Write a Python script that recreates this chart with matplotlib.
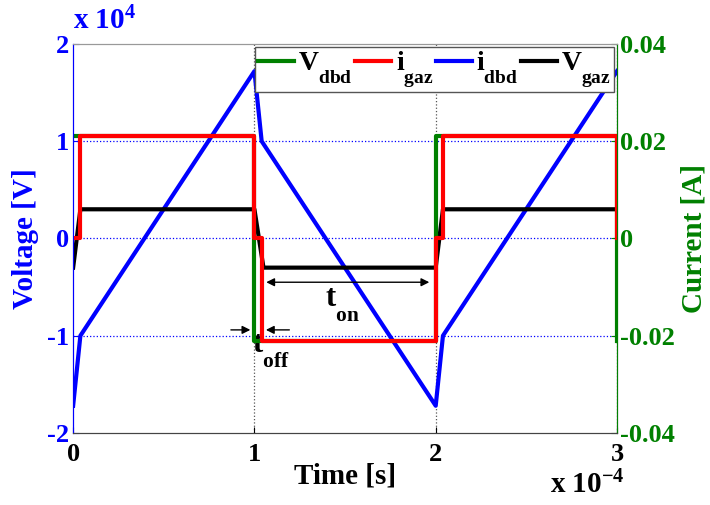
import matplotlib
matplotlib.use("Agg")
import matplotlib.pyplot as plt

plt.rcParams['font.family'] = 'Liberation Serif'
plt.rcParams['font.weight'] = 'bold'
plt.rcParams['mathtext.fontset'] = 'custom'
plt.rcParams['mathtext.rm'] = 'Liberation Serif:bold'
plt.rcParams['mathtext.bf'] = 'Liberation Serif:bold'
plt.rcParams['mathtext.it'] = 'Liberation Serif:bold'

# matlab-like subscripts sit lower than matplotlib's default
try:
    from matplotlib import _mathtext
    _mathtext.FontConstantsBase.sub1 = 1.0
except Exception:
    pass

# data (time in s)
t_vdbd = [0, 0.04e-4, 1.0e-4, 1.04e-4, 2.0e-4, 2.04e-4, 3.0e-4]
v_dbd = [-17200, -10000, 17200, 10000, -17200, -10000, 17200]

t_vgaz = [0, 0.04e-4, 1.0e-4, 1.05e-4, 2.0e-4, 2.04e-4, 3.0e-4]
v_gaz = [-3000, 3000, 3000, -3000, -3000, 3000, 3000]

t_igaz = [0, 0.04e-4, 0.04e-4, 1.0e-4, 1.0e-4, 1.04e-4, 1.04e-4,
          2.0e-4, 2.0e-4, 2.04e-4, 2.04e-4, 3.0e-4, 3.0e-4]
i_gaz = [0, 0, 0.021, 0.021, 0, 0, -0.021, -0.021, 0, 0, 0.021, 0.021, 0]

t_idbd = [0, 1.0e-4, 1.0e-4, 2.0e-4, 2.0e-4, 3.0e-4, 3.0e-4]
i_dbd = [0.021, 0.021, -0.021, -0.021, 0.021, 0.021, -0.021]

x_ticks = [0, 1e-4, 2e-4, 3e-4]
x_labels = ['0', '1', '2', '3']
v_ticks = [-20000, -10000, 0, 10000, 20000]
v_labels = ['-2', '-1', '0', '1', '2']
i_ticks = [-0.04, -0.02, 0, 0.02, 0.04]
i_labels = ['-0.04', '-0.02', '0', '0.02', '0.04']

BLUE = '#0000ff'
GREEN = '#008000'
FS = 19

fig = plt.figure(figsize=(7.1, 5.05), dpi=100, facecolor='w')
ax1 = fig.add_axes([0.103, 0.1426, 0.766, 0.7704])
ax2 = ax1.twinx()

l_blue, = ax1.plot(t_vdbd, v_dbd, '-', color=BLUE, linewidth=3)
l_black, = ax1.plot(t_vgaz, v_gaz, '-', color='k', linewidth=3)
l_green, = ax2.plot(t_idbd, i_dbd, '-', color=GREEN, linewidth=3)
l_red, = ax2.plot(t_igaz, i_gaz, '-', color='#ff0000', linewidth=3)

ax1.set_xlim(0, 3e-4)
ax1.set_ylim(-20000, 20000)
ax2.set_ylim(-0.04, 0.04)

ax1.set_xticks(x_ticks)
ax1.set_xticklabels(x_labels, fontsize=FS, fontweight='bold')
ax1.set_yticks(v_ticks)
ax1.set_yticklabels(v_labels, fontsize=FS, fontweight='bold', color=BLUE)
ax2.set_yticks(i_ticks)
ax2.set_yticklabels(i_labels, fontsize=FS, fontweight='bold', color=GREEN)

ax1.tick_params(axis='x', direction='in', length=4, pad=7)
ax1.tick_params(axis='y', direction='in', length=4, colors=BLUE, pad=3)
ax2.tick_params(axis='y', direction='in', length=4, colors=GREEN, pad=2)

# grid
for xv in x_ticks[1:]:
    ax1.axvline(xv, color='#555555', linestyle=':', linewidth=0.9, zorder=0)
for yv in v_ticks[1:-1]:
    ax1.axhline(yv, color=BLUE, linestyle=':', linewidth=0.9, zorder=0)

for ax in (ax1, ax2):
    ax.spines['top'].set_color('#999999')
    ax.spines['bottom'].set_color('#444444')
ax1.spines['left'].set_color(BLUE)
ax2.spines['left'].set_color(BLUE)
ax2.spines['right'].set_color(GREEN)

ax1.set_xlabel('Time [s]', fontsize=21, fontweight='bold', labelpad=-2)
ax1.set_ylabel('Voltage [V]', fontsize=21, fontweight='bold', color=BLUE, labelpad=6)
ax2.set_ylabel('Current [A]', fontsize=21, fontweight='bold', color=GREEN, labelpad=4)

fig.text(0.103, 0.93, r'x 10$^{4}$', fontsize=21, fontweight='bold', color=BLUE,
         ha='left', va='bottom')
fig.text(0.775, 0.012, r'x 10$^{-4}$', fontsize=21, fontweight='bold', color='k',
         ha='left', va='bottom')

# annotations
ax1.annotate('', xy=(1.05e-4, -4500), xytext=(1.98e-4, -4500),
             arrowprops=dict(arrowstyle='<|-|>', color='k', lw=1, mutation_scale=12))
ax1.text(1.39e-4, -6900, r'$\mathregular{t_{on}}$', fontsize=22, ha='left', va='baseline')
ax1.annotate('', xy=(0.993e-4, -9400), xytext=(0.855e-4, -9400),
             arrowprops=dict(arrowstyle='-|>', color='k', lw=1, mutation_scale=12))
ax1.annotate('', xy=(1.048e-4, -9400), xytext=(1.208e-4, -9400),
             arrowprops=dict(arrowstyle='-|>', color='k', lw=1, mutation_scale=12))
ax1.text(0.985e-4, -11700, r'$\mathregular{t_{off}}$', fontsize=22, ha='left', va='baseline')

leg = ax2.legend([l_green, l_red, l_blue, l_black],
                 [r'$\mathregular{V_{dbd}}$', r'$\mathregular{i_{gaz}}$',
                  r'$\mathregular{i_{dbd}}$', r'$\mathregular{V_{gaz}}$'],
                 loc='upper right', ncol=4, fontsize=20, handlelength=1.3,
                 handletextpad=0.15, columnspacing=0.1, borderpad=0.1,
                 borderaxespad=0.1, fancybox=False, framealpha=1,
                 edgecolor='#555555')
leg.get_frame().set_linewidth(1.0)

fig.savefig('out.png', dpi=100, facecolor='w')
